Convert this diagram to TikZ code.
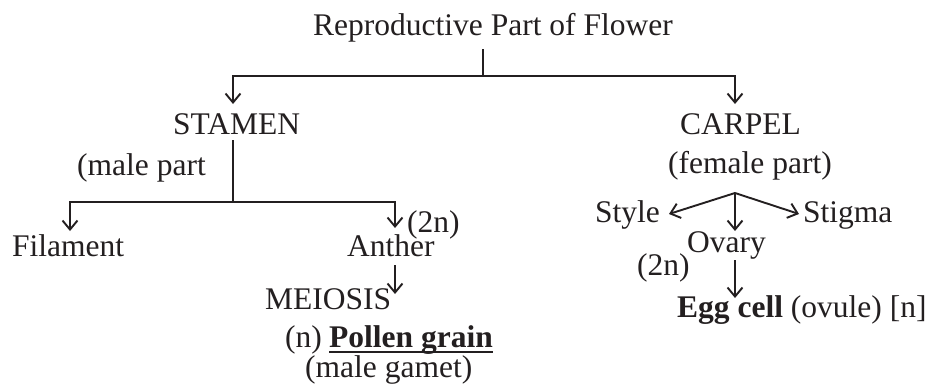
\documentclass[tikz,border=0pt]{standalone}
\usepackage{fontspec}
\setmainfont{Liberation Serif}
\usetikzlibrary{arrows.meta}
\definecolor{ink}{RGB}{35,31,32}
\begin{document}
\begin{tikzpicture}[x=1pt,y=-1pt,
  lbl/.style={anchor=base west,inner sep=0pt,text=ink,font=\fontsize{31.5}{36}\selectfont},
  ln/.style={draw=ink,line width=1.9pt},
  arr/.style={ln,-{Straight Barb[length=9pt,width=15pt,line width=1.9pt]}}]
\useasboundingbox (0,0) rectangle (929,388);
% texts
\node[lbl] (title) at (313,35) {Reproductive Part of Flower};
\node[lbl] (stamen) at (173,134) {STAMEN};
\node[lbl] (malepart) at (77,175) {(male part};
\node[lbl] (carpel) at (680,134) {CARPEL};
\node[lbl] (femalepart) at (668,173) {(female part)};
\node[lbl] (filament) at (12,256) {Filament};
\node[lbl] (anther) at (347,256) {Anther};
\node[lbl] (ploidyA) at (407,232) {(2n)};
\node[lbl] (meiosis) at (265,309) {MEIOSIS};
\node[lbl] (nlabel) at (285,347) {(n)};
\node[lbl] (pollen) at (329,347) {\bfseries Pollen grain};
\node[lbl] (gamete) at (305,377) {(male gamet)};
\node[lbl] (style) at (595,222) {Style};
\node[lbl] (stigma) at (803,222) {Stigma};
\node[lbl] (ovary) at (687,252) {Ovary};
\node[lbl] (ploidyO) at (637,275) {(2n)};
\node[lbl] (egg) at (677,317) {\bfseries Egg cell\mdseries{} (ovule) [n]};
% junction coordinates
\coordinate (t0) at (483,49);
\coordinate (j0) at (483,76);
\coordinate (sA) at (233,104);
\coordinate (cA) at (735,104);
\coordinate (s0) at (233,140);
\coordinate (s1) at (233,202);
\coordinate (fA) at (70,231);
\coordinate (aA) at (395,228);
\coordinate (a0) at (395,265);
\coordinate (mA) at (395,294);
\coordinate (c0) at (735,193);
\coordinate (stA) at (669,214);
\coordinate (sgA) at (799,214);
\coordinate (oA) at (735,231);
\coordinate (o0) at (735,260);
\coordinate (eA) at (735,298);
% connectors
\draw[ln] (t0) -- (j0);
\draw[arr] (j0) -| (sA);
\draw[arr] (j0) -| (cA);
\draw[ln] (s0) -- (s1);
\draw[arr] (s1) -| (fA);
\draw[arr] (s1) -| (aA);
\draw[arr] (a0) -- (mA);
\draw[arr] (c0) -- (stA);
\draw[arr] (c0) -- (sgA);
\draw[arr] (c0) -- (oA);
\draw[arr] (o0) -- (eA);
% underline
\draw[draw=ink,line width=1.5pt] ([yshift=-5pt]pollen.base west) -- ([yshift=-5pt]pollen.base east);
\end{tikzpicture}
\end{document}
